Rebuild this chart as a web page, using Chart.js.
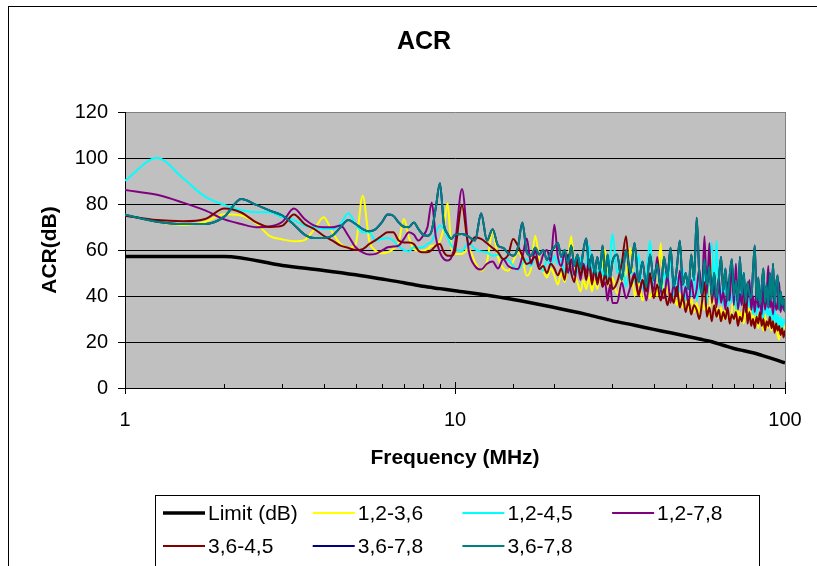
<!DOCTYPE html>
<html lang="en">
<head>
<meta charset="UTF-8">
<title>ACR</title>
<script src="https://cdn.jsdelivr.net/npm/chart.js"></script>
<style>
  html, body { margin: 0; padding: 0; background: #fff; }
  canvas { display: block; }
</style>
</head>
<body>
<canvas id="acrChart" width="817" height="566"></canvas>
<script>
// frequency points (MHz) shared by all measured pairs
const freqLow = [1, 1.25, 1.5, 1.75, 2, 2.25, 2.5, 2.75, 3, 3.25, 3.5, 3.75, 4, 4.25, 4.5, 4.75, 5, 5.25, 5.5, 5.75,
  6, 6.25, 6.5, 6.75, 7, 7.25, 7.5, 7.75, 8, 8.25, 8.5, 8.75, 9, 9.25, 9.5, 9.75, 10];
const freqMid = [10.5, 11, 11.5, 12, 12.5, 13, 13.5, 14, 14.5, 15, 15.5, 16, 16.5, 17, 17.5, 18, 18.5, 19, 19.5, 20,
  20.5, 21, 21.5, 22, 22.5, 23, 23.5, 24, 24.5, 25, 25.5, 26, 26.5, 27, 27.5, 28, 28.5, 29, 29.5, 30];
const freqHigh = [31, 32, 33, 34, 35, 36, 37, 38, 39, 40, 41, 42, 43, 44, 45, 46, 47, 48, 49, 50,
  51, 52, 53, 54, 55, 56, 57, 58, 59, 60, 61, 62, 63, 64, 65, 66, 67, 68, 69, 70,
  71, 72, 73, 74, 75, 76, 77, 78, 79, 80, 81, 82, 83, 84, 85, 86, 87, 88, 89, 90,
  91, 92, 93, 94, 95, 96, 97, 98, 99, 100];
const freqs = freqLow.concat(freqMid, freqHigh);

// limit line
const limitFreqs = [1, 2, 3, 4, 5, 6, 7, 8, 9, 10, 15, 20, 25, 30, 35, 40, 45, 50, 55, 60, 65, 70, 75, 80, 85, 90, 95, 100];
const limitDb = [57.2, 57.2, 53.3, 51.1, 49.2, 47.4, 45.8, 44.2, 43.2, 42.3, 38.5, 35, 32, 29.2, 27.3, 25.5, 24, 22.6, 21.3, 20.1,
  18.6, 17.2, 16.2, 15.3, 14.2, 13.1, 12, 10.9];

// ACR per pair combination (dB)
const acr12_36 = [
  75.3, 72.3, 70.9, 72.3, 75.5, 75, 71.6, 66, 64.6, 63.8, 64.3, 69.1, 74.2, 67.7, 62.6, 60.9, 62.6, 83.6, 64, 59.7,
  58.6, 59, 60.4, 63.3, 73.5, 65.5, 60.4, 59.7, 59.7, 60.4, 61.9, 61.9, 64, 70, 80.3, 61.2, 58.3,
  58.3, 60.4, 54.6, 51, 55, 68, 56.8, 52, 51, 55, 59, 56, 48.8, 52, 66.2, 56, 51, 48, 52, 49,
  45, 50, 46, 55, 66, 50, 46, 42, 47, 43, 48, 42, 47, 43, 49, 53, 60, 46, 43, 48,
  41, 47, 50, 61, 40, 46, 38, 44, 39, 45, 40, 63, 39, 44, 37, 42, 36, 41, 35, 40,
  34, 39, 33, 37, 32, 38, 34, 36, 31, 59, 33, 37, 31, 35, 30, 34, 32, 29, 33, 46,
  30, 35, 29, 33, 28, 34, 30, 36, 28, 32, 27, 33, 26, 31, 28, 25, 32, 26, 29, 27,
  25, 30, 24, 28, 23, 21, 27, 23, 26, 27];
const acr12_45 = [
  90.1, 100, 91.2, 83.2, 79.6, 77.4, 76.4, 76.4, 74.2, 73, 70.6, 69.9, 69.1, 69.1, 71.3, 76, 71.3, 67.7, 67.7, 64.1,
  64.8, 65.2, 64.1, 61.5, 60, 59.4, 61.2, 61, 61.2, 62.6, 63.8, 67.7, 70.6, 69.1, 65.5, 61.9, 60.4,
  59.7, 63.3, 60.4, 59.4, 59, 57.5, 58, 56, 55.7, 53, 51.3, 54, 56.1, 53, 57.5, 54, 51, 56, 53, 57.5,
  54, 56, 50, 55, 49, 56, 50, 57, 51, 55, 62, 50, 53, 48, 55, 49, 52, 47, 56, 67,
  50, 56, 44, 52, 46, 58, 43, 49, 64, 44, 55, 41, 50, 45, 57, 40, 48, 42, 52, 38,
  47, 40, 53, 38, 45, 41, 50, 37, 55, 63, 40, 64, 37, 44, 36, 49, 35, 42, 37, 46,
  34, 40, 36, 47, 50, 33, 39, 35, 42, 32, 38, 31, 44, 33, 36, 30, 40, 32, 35, 29,
  34, 28, 36, 27, 32, 26, 31, 25, 30, 28];
const acr12_78 = [
  86.1, 84, 80.6, 77.2, 73.3, 71.3, 69.9, 70.3, 72.3, 78, 73.5, 70.6, 69.9, 69.9, 70.6, 66.2, 61.2, 59, 58, 58.3,
  59.7, 61.2, 61.5, 61.9, 64.8, 67.7, 66.7, 64.1, 66.2, 69.9, 80.7, 65.5, 59, 56.1, 55.4, 56.8, 62.6,
  86.5, 60, 53, 51.5, 54, 55, 52, 56, 53, 52, 51.7, 57, 65, 54, 59.7, 53, 58, 60, 55, 71,
  57, 53, 59, 50, 56, 49, 55, 47, 54, 50, 56, 46, 52, 45, 50, 44, 46, 38, 45, 37,
  37, 46, 39, 44, 50, 41, 47, 38, 48, 42, 57, 43, 39, 49, 37, 45, 40, 51, 38, 44,
  36, 47, 39, 43, 52, 40, 66, 41, 63, 37, 44, 35, 48, 37, 42, 34, 46, 38, 55, 36,
  54, 34, 41, 36, 45, 33, 39, 47, 34, 40, 33, 42, 35, 38, 32, 44, 34, 40, 53, 35,
  38, 32, 41, 34, 36, 46, 33, 39, 34, 37];
const acr36_45 = [
  74.9, 73, 72.5, 73.5, 78, 76.3, 72, 70, 70.6, 75.4, 71.3, 69.1, 66.2, 64.1, 61.9, 60.9, 60, 60.4, 62.6, 64.3,
  66.2, 67.7, 67.7, 64.1, 63.3, 63.3, 62.6, 59.7, 59, 59, 60, 61.9, 62.6, 59, 57.5, 57.5, 59.7,
  79.5, 62.3, 65.5, 64.8, 62.9, 60.9, 59, 56.1, 58, 64.8, 61.9, 57.5, 53.9, 55, 57.1, 51.7, 53, 50, 54, 52,
  49, 52, 47, 58, 50, 46, 56, 49, 53, 47, 55, 45, 52, 46, 51, 44, 50, 45, 49, 43,
  46, 54, 66, 44, 49, 40, 47, 42, 50, 39, 45, 38, 43, 36, 41, 37, 44, 35, 40, 33,
  38, 32, 36, 34, 30, 37, 46, 31, 35, 29, 36, 31, 34, 29, 33, 30, 35, 28, 32, 30,
  33, 27, 31, 29, 35, 41, 28, 33, 27, 30, 26, 31, 28, 33, 27, 30, 25, 29, 27, 31,
  26, 29, 24, 28, 25, 27, 23, 26, 22, 25];
const acr36_78 = [
  75.3, 72.3, 71.3, 71.3, 74.5, 82.2, 79.6, 77.1, 75, 71, 66.7, 65.2, 65.2, 66.2, 69.9, 73, 71.3, 69.1, 68.1, 69.1,
  72, 75.4, 74.9, 72, 70.1, 69.9, 72, 69.1, 66.7, 66.2, 68.4, 78.6, 89, 71.3, 67, 64.8, 66.7,
  67, 65.8, 64.1, 76, 64.1, 69, 61.9, 60.9, 58.6, 57.5, 60.9, 72, 59, 57.5, 61, 58, 60, 55.7, 59, 61.2,
  63, 57, 60, 54, 62, 53, 58, 52, 60, 65, 52, 58, 50, 57, 51, 62, 49, 58, 48, 55,
  58, 47, 60, 50, 63, 46, 55, 44, 58, 47, 54, 43, 57, 48, 61, 44, 52, 64, 45, 50,
  43, 58, 47, 74, 49, 41, 56, 45, 53, 40, 50, 39, 47, 57, 42, 52, 38, 49, 56, 40,
  47, 37, 57, 40, 50, 37, 46, 41, 39, 51, 62, 38, 48, 36, 44, 52, 37, 45, 35, 50,
  38, 54, 36, 45, 49, 34, 42, 36, 39, 33];

const seriesLabels = ['Limit (dB)', '1,2-3,6', '1,2-4,5', '1,2-7,8', '3,6-4,5', '3,6-7,8', '3,6-7,8'];
const xTickLabels = [1, 10, 100];
const yMin = 0, yMax = 120, yStep = 20;

const FONT = "'Liberation Sans', Arial, sans-serif";

function toPoints(xs, ys) {
  return ys.map((y, i) => ({ x: xs[i], y: y }));
}
function isMajor(v) {
  return xTickLabels.some(t => Math.abs(t - v) < 1e-6);
}

// plot fill, frame, title, legend and inside tick marks (Excel look)
const excelLook = {
  id: 'excelLook',
  beforeDraw(chart) {
    const { ctx, chartArea: a } = chart;
    ctx.save();
    ctx.fillStyle = '#fff';
    ctx.fillRect(0, 0, chart.width, chart.height);
    ctx.fillStyle = '#c0c0c0';
    ctx.fillRect(a.left, a.top, a.right - a.left, a.bottom - a.top);
    ctx.restore();
  },
  afterDraw(chart) {
    const { ctx, chartArea: a } = chart;
    const xs = chart.scales.x;
    ctx.save();
    // right border of plot
    ctx.strokeStyle = '#808080';
    ctx.lineWidth = 1;
    ctx.beginPath();
    ctx.moveTo(Math.round(a.right) + 0.5, a.top);
    ctx.lineTo(Math.round(a.right) + 0.5, a.bottom);
    ctx.stroke();

    // ticks inside the plot on the x axis
    ctx.strokeStyle = '#000';
    xs.ticks.forEach(t => {
      const px = Math.round(xs.getPixelForValue(t.value)) + 0.5;
      const len = isMajor(t.value) ? 6 : 4;
      ctx.beginPath();
      ctx.moveTo(px, a.bottom - len);
      ctx.lineTo(px, a.bottom);
      ctx.stroke();
    });

    // outer chart border
    ctx.strokeStyle = '#000';
    ctx.strokeRect(8.5, 6.5, 1000, 1000);

    // title
    ctx.fillStyle = '#000';
    ctx.font = 'bold 25px ' + FONT;
    ctx.textAlign = 'center';
    ctx.textBaseline = 'middle';
    ctx.fillText('ACR', 424, 42);

    // legend box
    ctx.strokeStyle = '#000';
    ctx.strokeRect(155.5, 495.5, 604, 200);
    ctx.font = '21px ' + FONT;
    ctx.textAlign = 'left';
    chart.data.datasets.forEach((ds, i) => {
      const col = i % 4, row = Math.floor(i / 4);
      const x = 163 + col * 149.7;
      const y = 513 + row * 33;
      ctx.strokeStyle = ds.borderColor;
      ctx.lineWidth = ds.borderWidth;
      ctx.beginPath();
      ctx.moveTo(x, y);
      ctx.lineTo(x + 42, y);
      ctx.stroke();
      ctx.fillStyle = '#000';
      ctx.fillText(ds.label, x + 45, y + 1);
    });
    ctx.restore();
  }
};

const lineBase = { pointRadius: 0, borderWidth: 2, fill: false, cubicInterpolationMode: 'monotone' };

new Chart(document.getElementById('acrChart'), {
  type: 'line',
  data: {
    datasets: [
      Object.assign({}, lineBase, { label: seriesLabels[0], data: toPoints(limitFreqs, limitDb), borderColor: '#000000', borderWidth: 3.5, order: 7 }),
      Object.assign({}, lineBase, { label: seriesLabels[1], data: toPoints(freqs, acr12_36), borderColor: '#ffff00', order: 6 }),
      Object.assign({}, lineBase, { label: seriesLabels[2], data: toPoints(freqs, acr12_45), borderColor: '#00ffff', order: 5 }),
      Object.assign({}, lineBase, { label: seriesLabels[3], data: toPoints(freqs, acr12_78), borderColor: '#800080', order: 4 }),
      Object.assign({}, lineBase, { label: seriesLabels[4], data: toPoints(freqs, acr36_45), borderColor: '#800000', order: 3 }),
      Object.assign({}, lineBase, { label: seriesLabels[5], data: toPoints(freqs, acr36_78), borderColor: '#000080', order: 2 }),
      Object.assign({}, lineBase, { label: seriesLabels[6], data: toPoints(freqs, acr36_78), borderColor: '#008080', order: 1 })
    ]
  },
  options: {
    responsive: false,
    animation: false,
    devicePixelRatio: 1,
    events: [],
    layout: { padding: { top: 112, left: 8, right: 32, bottom: 88 } },
    plugins: {
      legend: { display: false },
      title: { display: false },
      tooltip: { enabled: false }
    },
    scales: {
      x: {
        type: 'logarithmic',
        min: 1,
        max: 100,
        ticks: {
          autoSkip: false, maxRotation: 0, minRotation: 0, padding: 14, color: '#000',
          font: { family: FONT, size: 20 },
          callback: v => isMajor(v) ? String(v) : ''
        },
        grid: {
          drawOnChartArea: false, tickLength: 6,
          color: c => (c.tick && isMajor(c.tick.value)) ? '#000' : 'rgba(0,0,0,0)'
        },
        border: { color: '#000' },
        title: {
          display: true, text: 'Frequency (MHz)', color: '#000',
          font: { family: FONT, size: 21, weight: 'bold' },
          padding: { top: 0, bottom: 7 }
        },
        afterFit(scale) { scale.height = 90; }
      },
      y: {
        min: yMin,
        max: yMax,
        ticks: { stepSize: yStep, padding: 10, color: '#000', font: { family: FONT, size: 20 } },
        grid: {
          color: c => (c.tick && c.tick.value === yMax) ? '#808080' : '#000',
          tickColor: '#000', tickLength: 7
        },
        border: { color: '#000' },
        title: {
          display: true, text: 'ACR(dB)', color: '#000',
          font: { family: FONT, size: 21, weight: 'bold' },
          padding: { top: 30, bottom: 0 }
        },
        afterFit(scale) { scale.width = 117; }
      }
    }
  },
  plugins: [excelLook]
});
</script>
</body>
</html>
